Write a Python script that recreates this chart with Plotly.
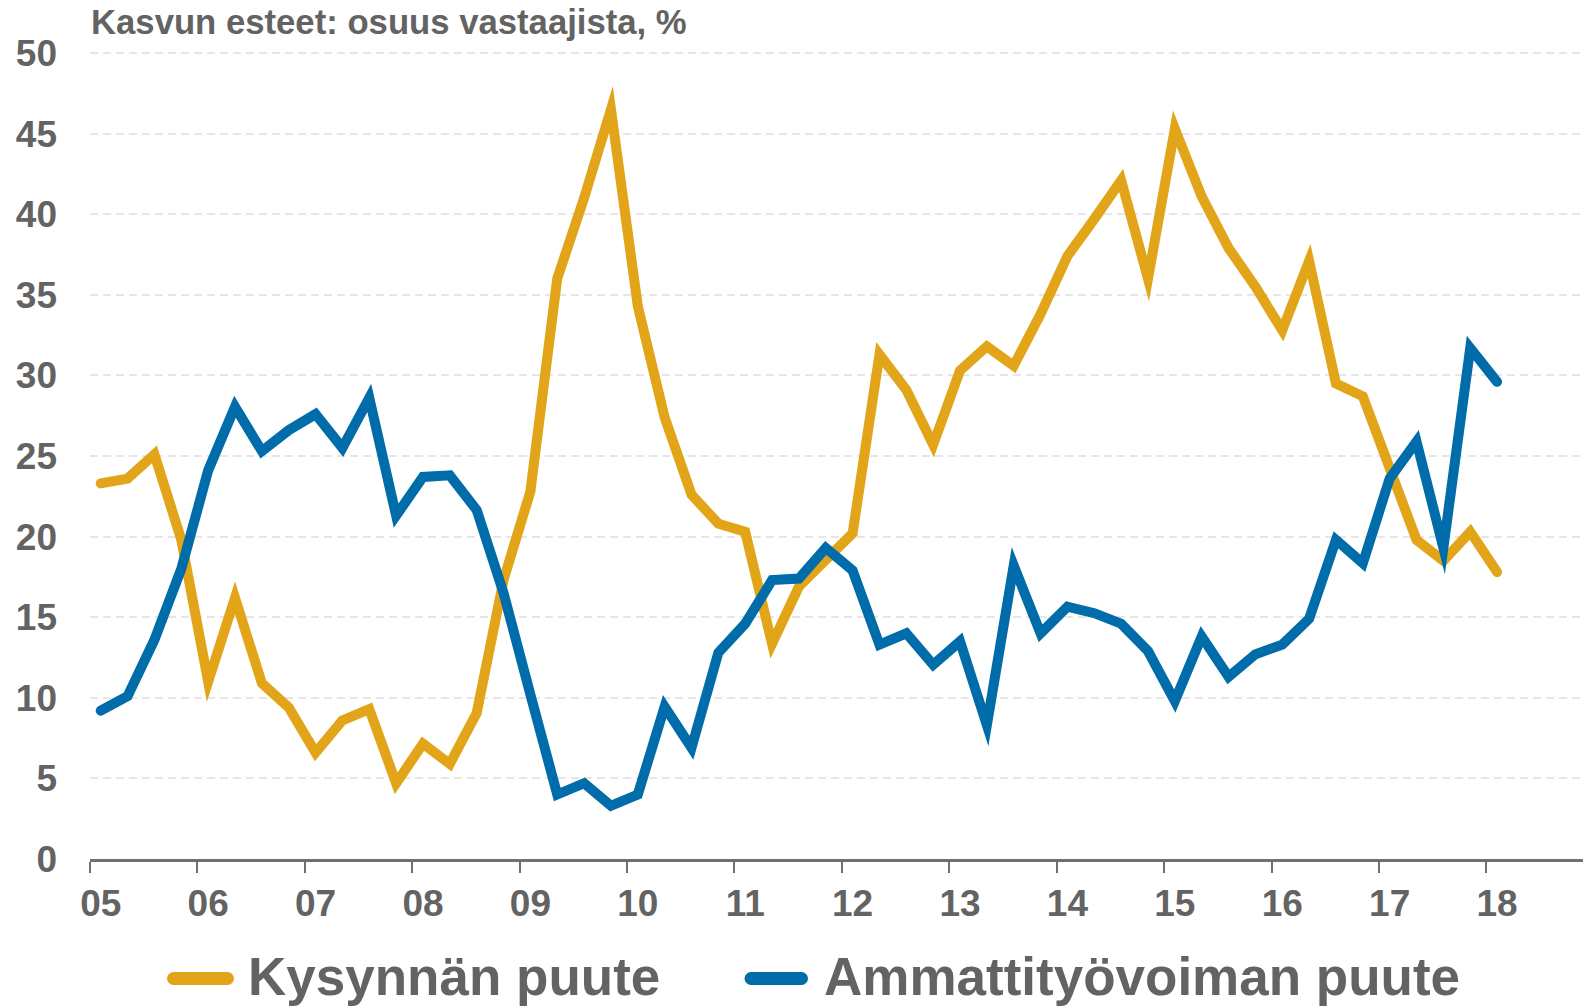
import plotly.graph_objects as go

# Quarterly observations 2005Q1 .. 2018Q1
quarters = [f"{y}Q{q}" for y in range(2005, 2019) for q in range(1, 5)][:53]

kysynnan_puute = [23.3, 23.6, 25.1, 19.8, 11.0, 16.2, 10.9, 9.4, 6.6, 8.6,
                  9.3, 4.7, 7.15, 5.9, 9.05, 17.3, 22.8, 36.0, 41.0, 46.5,
                  34.3, 27.4, 22.6, 20.8, 20.3, 13.35, 16.9, 18.55, 20.2, 31.3,
                  29.1, 25.7, 30.3, 31.8, 30.6, 33.8, 37.4, 39.7, 42.1, 36.0,
                  45.3, 41.1, 37.9, 35.5, 32.8, 37.1, 29.5, 28.7, 24.2, 19.8,
                  18.5, 20.3, 17.8]

ammattityovoiman_puute = [9.2, 10.1, 13.6, 18.0, 24.1, 28.05, 25.3, 26.6, 27.6, 25.5,
                          28.6, 21.3, 23.7, 23.8, 21.65, 16.5, 10.2, 4.0, 4.7, 3.3,
                          4.0, 9.45, 6.9, 12.8, 14.6, 17.3, 17.4, 19.3, 17.9, 13.3,
                          14.0, 12.05, 13.5, 8.3, 18.2, 14.0, 15.65, 15.25, 14.6, 12.9,
                          9.8, 13.8, 11.3, 12.7, 13.3, 14.9, 19.8, 18.35, 23.6, 25.9,
                          19.3, 31.7, 29.6]

years = list(range(2005, 2019))
year_labels = ["05", "06", "07", "08", "09", "10", "11", "12", "13", "14", "15", "16", "17", "18"]

series_names = ["Kysynnän puute", "Ammattityövoiman puute"]
title_text = "Kasvun esteet: osuus vastaajista, %"

GOLD = "#E2A51A"
BLUE = "#006CA9"
TEXT = "#636363"
FONT = "Liberation Sans, Arial, sans-serif"

# quarterly observations are placed slightly after the start of each quarter
def qpos(label):
    y, q = label.split("Q")
    return int(y) + (int(q) - 1) * 0.25 + 0.1

xvals = [qpos(q) for q in quarters]

fig = go.Figure()
fig.add_trace(go.Scatter(x=xvals, y=kysynnan_puute, mode="lines", name=series_names[0],
                         line=dict(color=GOLD, width=10), showlegend=False))
fig.add_trace(go.Scatter(x=xvals, y=ammattityovoiman_puute, mode="lines", name=series_names[1],
                         line=dict(color=BLUE, width=10), showlegend=False))

W, H = 1583, 1007
L, R, T, B = 90, 0, 51, 148
PW, PH = W - L - R, H - T - B
YMAX = 50 * PH / 806.0  # keep 16.12 px per unit, leave room for the 50 gridline

def px_x(px):
    return (px - L) / PW

def px_y(py):
    return (H - B - py) / PH

fig.update_layout(
    width=W, height=H,
    margin=dict(l=L, r=R, t=T, b=B),
    paper_bgcolor="white", plot_bgcolor="white",
    font=dict(family=FONT, color=TEXT),
    xaxis=dict(
        range=[2005, 2018.9],
        tickmode="array",
        tickvals=[y + 0.1 for y in years],
        ticktext=year_labels,
        ticks="",
        tickfont=dict(size=37, family=FONT, color=TEXT, weight="bold"),
        ticklabelstandoff=10,
        showgrid=False, zeroline=False,
        showline=True, linecolor="#707070", linewidth=3,
        minor=dict(ticks="outside", tick0=2005, dtick=1, ticklen=11,
                   tickwidth=2, tickcolor="#707070", showgrid=False),
    ),
    yaxis=dict(
        range=[0, YMAX],
        tickmode="array",
        tickvals=list(range(0, 51, 5)),
        ticks="",
        tickfont=dict(size=37, family=FONT, color=TEXT, weight="bold"),
        ticklabelstandoff=32,
        showgrid=True, gridcolor="#E6E6E6", gridwidth=2, griddash="8px,5px",
        zeroline=False, showline=False,
    ),
)

annotations = [
    dict(text=title_text, xref="paper", yref="paper", x=px_x(89), y=px_y(22),
         xanchor="left", yanchor="middle", showarrow=False,
         font=dict(size=34.7, family=FONT, color=TEXT, weight="bold")),
    dict(text=series_names[0], xref="paper", yref="paper", x=px_x(246), y=px_y(977),
         xanchor="left", yanchor="middle", showarrow=False,
         font=dict(size=53, family=FONT, color=TEXT, weight="bold")),
    dict(text=series_names[1], xref="paper", yref="paper", x=px_x(822), y=px_y(977),
         xanchor="left", yanchor="middle", showarrow=False,
         font=dict(size=53, family=FONT, color=TEXT, weight="bold")),
]

shapes = []
for (x0, x1, col) in [(173.5, 227.5, GOLD), (751, 801.5, BLUE)]:
    yc = px_y(978.5)
    shapes.append(dict(type="line", xref="paper", yref="paper",
                       x0=px_x(x0), x1=px_x(x1), y0=yc, y1=yc,
                       line=dict(color=col, width=13)))
    for xe in (x0, x1):
        shapes.append(dict(type="circle", xref="paper", yref="paper",
                           xsizemode="pixel", ysizemode="pixel",
                           xanchor=px_x(xe), yanchor=yc,
                           x0=-6.5, x1=6.5, y0=-6.5, y1=6.5,
                           fillcolor=col, line=dict(width=0)))

fig.update_layout(annotations=annotations, shapes=shapes)

post = (
    "document.body.style.margin='0';"
    "document.body.style.overflow='hidden';"
    "var s=document.createElement('style');"
    "s.textContent='.js-line{stroke-linejoin:miter !important;"
    "stroke-miterlimit:20 !important;stroke-linecap:round !important;}';"
    "document.head.appendChild(s);"
)

fig.write_html("out.html", config={"displayModeBar": False}, post_script=post)
